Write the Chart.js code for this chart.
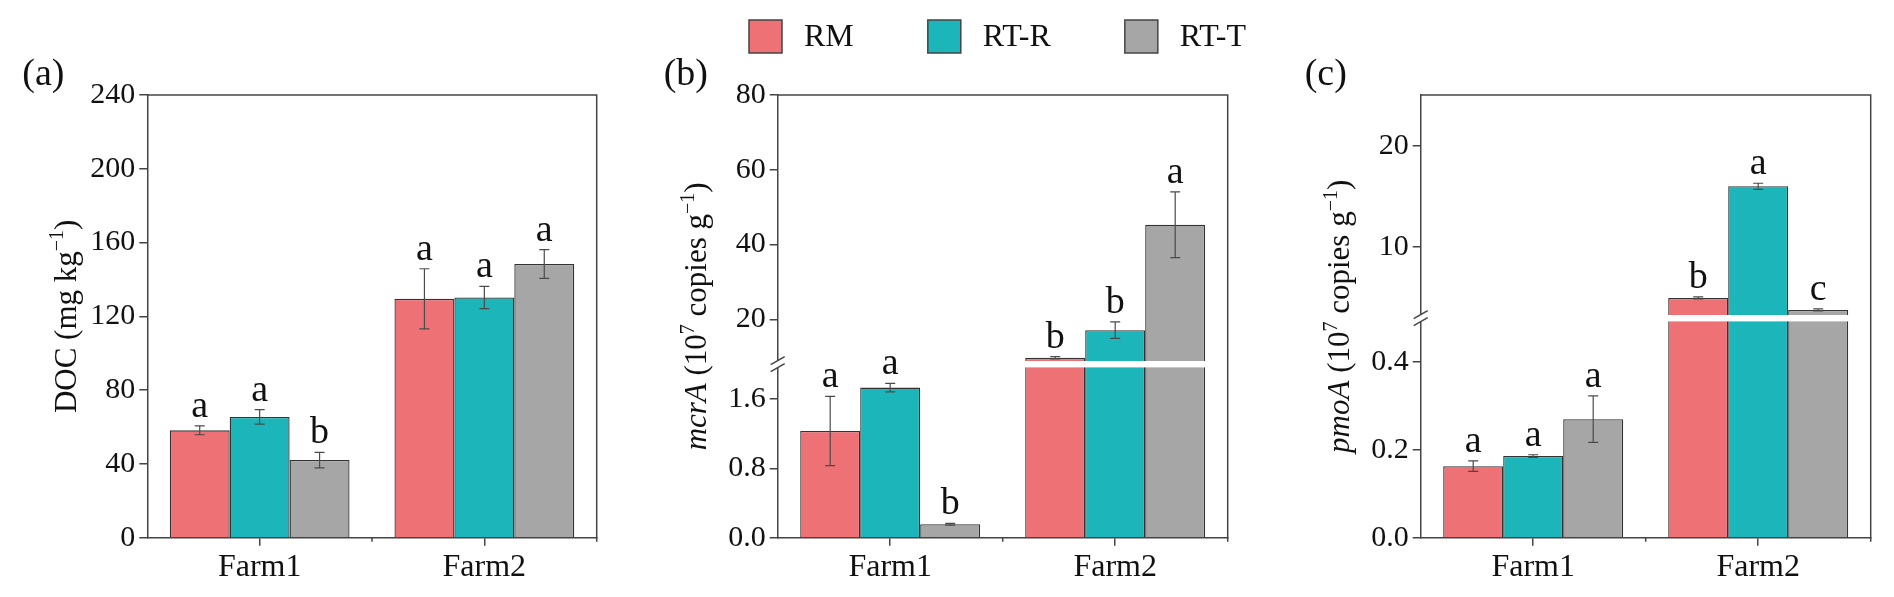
<!DOCTYPE html>
<html>
<head>
<meta charset="utf-8">
<script src="https://cdn.jsdelivr.net/npm/chart.js@4.4.1/dist/chart.umd.min.js"></script>
<style>
  html, body { margin: 0; padding: 0; background: #fff; }
  #wrap { position: relative; width: 1894px; height: 597px; overflow: hidden; }
  canvas { position: absolute; top: 0; }
</style>
</head>
<body>
<div id="wrap">
  <canvas id="chartA" width="620" height="597" style="left:0px;width:620px;height:597px"></canvas>
  <canvas id="chartB" width="650" height="597" style="left:620px;width:650px;height:597px"></canvas>
  <canvas id="chartC" width="624" height="597" style="left:1270px;width:624px;height:597px"></canvas>
</div>
<script>
// data
const categories = ['Farm1', 'Farm2'];
const seriesNames = ['RM', 'RT-R', 'RT-T'];

// (a) DOC, mg kg-1
const docRM = [58.2, 129.5];
const docRTR = [65.5, 130.2];
const docRTT = [42.1, 148.4];
const docErrRM = [2.4, 16.3];
const docErrRTR = [3.9, 6.0];
const docErrRTT = [4.2, 7.8];
const docLetRM = ['a', 'a'];
const docLetRTR = ['a', 'a'];
const docLetRTT = ['b', 'a'];
const docTicks = [0, 40, 80, 120, 160, 200, 240];

// (b) mcrA, 10^7 copies g-1
const mcrRM = [1.23, 9.7];
const mcrRTR = [1.73, 17.1];
const mcrRTT = [0.155, 45.3];
const mcrErrRM = [0.4, 0.3];
const mcrErrRTR = [0.05, 2.2];
const mcrErrRTT = [0.01, 8.8];
const mcrLetRM = ['a', 'b'];
const mcrLetRTR = ['a', 'b'];
const mcrLetRTT = ['b', 'a'];
const mcrLowTicks = [0, 0.8, 1.6];
const mcrHighTicks = [20, 40, 60, 80];

// (c) pmoA, 10^7 copies g-1
const pmoRM = [0.163, 5.0];
const pmoRTR = [0.186, 16.0];
const pmoRTT = [0.27, 3.82];
const pmoErrRM = [0.012, 0.1];
const pmoErrRTR = [0.003, 0.3];
const pmoErrRTT = [0.053, 0.1];
const pmoLetRM = ['a', 'b'];
const pmoLetRTR = ['a', 'a'];
const pmoLetRTT = ['a', 'c'];
const pmoLowTicks = [0, 0.2, 0.4];
const pmoHighTicks = [10, 20];

// styles
const seriesColors = ['#EE7175', '#1CB6BA', '#A6A6A6'];
const edgeColor = '#333333';
const axisColor = '#444444';
const textColor = '#111111';
const serif = '"Liberation Serif", "Times New Roman", serif';

Chart.defaults.font.family = serif;
Chart.defaults.color = textColor;

const PLOT_TOP = 95;
const PLOT_BOTTOM = 537.7;

function barSets(values, axisId) {
  return values.map((vals, i) => ({
    label: seriesNames[i],
    data: vals,
    yAxisID: axisId,
    stack: seriesNames[i],
    backgroundColor: seriesColors[i],
    borderColor: edgeColor,
    borderWidth: 1.3,
    categoryPercentage: 0.8,
    barPercentage: 1.0
  }));
}

function xScale() {
  return {
    type: 'category',
    offset: true,
    grid: { drawOnChartArea: false, drawTicks: true, tickLength: 8, offset: false, color: axisColor, lineWidth: 1.5 },
    border: { color: axisColor, width: 1.5 },
    ticks: { font: { size: 32 }, color: textColor, padding: 3, maxRotation: 0 },
    afterFit: s => { s.height = 597 - PLOT_BOTTOM; }
  };
}

function yScale(o) {
  return {
    type: 'linear',
    position: 'left',
    min: o.min,
    max: o.max,
    stacked: false,
    stack: o.stack,
    stackWeight: o.stackWeight,
    weight: o.weight || 0,
    afterBuildTicks: s => { s.ticks = o.ticks.map(v => ({ value: v })); },
    afterFit: s => { s.width = o.width; },
    grid: { drawOnChartArea: false, tickLength: 8, color: axisColor, lineWidth: 1.5 },
    border: { color: axisColor, width: 1.5 },
    ticks: { font: { size: 30 }, color: textColor, padding: 4, callback: v => o.fmt(v) }
  };
}

function drawRich(ctx, segs, baseX, cy, size) {
  const fontOf = s => (s.italic ? 'italic ' : '') + (s.sup ? Math.round(size * 0.65) : size) + 'px ' + serif;
  let total = 0;
  segs.forEach(s => { ctx.font = fontOf(s); total += ctx.measureText(s.t).width; });
  ctx.save();
  ctx.translate(baseX, cy);
  ctx.rotate(-Math.PI / 2);
  ctx.fillStyle = textColor;
  ctx.textBaseline = 'alphabetic';
  ctx.textAlign = 'left';
  let x = -total / 2;
  segs.forEach(s => {
    ctx.font = fontOf(s);
    ctx.fillText(s.t, x, s.sup ? -size * 0.4 : 0);
    x += ctx.measureText(s.t).width;
  });
  ctx.restore();
}

function decor(spec) {
  return {
    id: 'decor',
    beforeDatasetDraw(chart, args) {
      const s = args.meta.yScale;
      const a = chart.chartArea;
      chart.ctx.save();
      chart.ctx.beginPath();
      chart.ctx.rect(a.left - 2, s.top, a.right - a.left + 4, s.bottom - s.top);
      chart.ctx.clip();
    },
    afterDatasetDraw(chart) {
      chart.ctx.restore();
    },
    afterDatasetsDraw(chart) {
      const ctx = chart.ctx;
      const a = chart.chartArea;
      if (spec.broken) {
        const j = chart.scales.yHigh.bottom;
        ctx.fillStyle = '#fff';
        ctx.fillRect(a.left + 1, j - 3.2, a.right - a.left - 2, 6.4);
      }
      spec.values.forEach((vals, i) => {
        const meta = chart.getDatasetMeta(i);
        vals.forEach((v, k) => {
          const e = spec.errors[i][k];
          const sc = spec.broken ? (v > spec.lowMax ? chart.scales.yHigh : chart.scales.yLow) : chart.scales.y;
          const x = meta.data[k].x;
          const yt = sc.getPixelForValue(v + e);
          const yb = sc.getPixelForValue(v - e);
          ctx.strokeStyle = '#4a4a4a';
          ctx.lineWidth = 1.2;
          ctx.beginPath();
          ctx.moveTo(x, yt); ctx.lineTo(x, yb);
          ctx.moveTo(x - 5, yt); ctx.lineTo(x + 5, yt);
          ctx.moveTo(x - 5, yb); ctx.lineTo(x + 5, yb);
          ctx.stroke();
          ctx.fillStyle = textColor;
          ctx.font = '38px ' + serif;
          ctx.textAlign = 'center';
          ctx.textBaseline = 'alphabetic';
          ctx.fillText(spec.letters[i][k], x, yt - 9);
        });
      });
    },
    afterDraw(chart) {
      const ctx = chart.ctx;
      const a = chart.chartArea;
      ctx.save();
      ctx.strokeStyle = axisColor;
      ctx.lineWidth = 1.5;
      ctx.beginPath();
      ctx.moveTo(a.left, a.top);
      ctx.lineTo(a.right, a.top);
      ctx.lineTo(a.right, a.bottom + 4);
      const mid = chart.scales.x.getPixelForValue(0.5);
      ctx.moveTo(mid, a.bottom);
      ctx.lineTo(mid, a.bottom + 4);
      ctx.stroke();

      if (spec.broken) {
        const j = chart.scales.yHigh.bottom;
        ctx.fillStyle = '#fff';
        ctx.fillRect(a.left - 2, j - 3.5, 4, 7);
        ctx.beginPath();
        [-3.5, 3.5].forEach(dy => {
          ctx.moveTo(a.left - 7, j + dy + 4);
          ctx.lineTo(a.left + 7, j + dy - 4);
        });
        ctx.stroke();
      }

      drawRich(ctx, spec.title, a.left - 71.5, (a.top + a.bottom) / 2, 31);

      ctx.fillStyle = textColor;
      ctx.font = '38px ' + serif;
      ctx.textAlign = 'left';
      ctx.textBaseline = 'alphabetic';
      ctx.fillText(spec.tag, a.left + spec.tagDx, 85);

      if (spec.legendX !== undefined) {
        let x = spec.legendX;
        ctx.font = '32px ' + serif;
        ctx.textBaseline = 'middle';
        chart.data.datasets.slice(0, 3).forEach(ds => {
          ctx.fillStyle = ds.backgroundColor;
          ctx.fillRect(x, 20, 33, 33);
          ctx.strokeStyle = axisColor;
          ctx.lineWidth = 1.5;
          ctx.strokeRect(x, 20, 33, 33);
          x += 33 + 22;
          ctx.fillStyle = textColor;
          ctx.fillText(ds.label, x, 37.5);
          x += ctx.measureText(ds.label).width + 74;
        });
      }
      ctx.restore();
    }
  };
}

function makeChart(id, spec, datasets, yScales, pad) {
  const scales = Object.assign({ x: xScale() }, yScales);
  return new Chart(document.getElementById(id), {
    type: 'bar',
    data: { labels: categories, datasets: datasets },
    options: {
      responsive: false,
      animation: false,
      events: [],
      layout: { padding: { top: PLOT_TOP, left: 0, right: pad, bottom: 0 } },
      plugins: { legend: { display: false }, tooltip: { enabled: false } },
      scales: scales
    },
    plugins: [decor(spec)]
  });
}

// (a)
const docValues = [docRM, docRTR, docRTT];
makeChart('chartA', {
  values: docValues,
  errors: [docErrRM, docErrRTR, docErrRTT],
  letters: [docLetRM, docLetRTR, docLetRTT],
  title: [{ t: 'DOC (mg kg' }, { t: '\u22121', sup: true }, { t: ')' }],
  tag: '(a)', tagDx: -125
}, barSets(docValues, 'y'), {
  y: yScale({ min: 0, max: 240, ticks: docTicks, fmt: v => String(v), width: 147.3 })
}, 620 - 596.7);

// (b)
const mcrValues = [mcrRM, mcrRTR, mcrRTT];
makeChart('chartB', {
  broken: true, lowMax: 2,
  values: mcrValues,
  errors: [mcrErrRM, mcrErrRTR, mcrErrRTT],
  letters: [mcrLetRM, mcrLetRTR, mcrLetRTT],
  title: [{ t: 'mcrA', italic: true }, { t: ' (10' }, { t: '7', sup: true }, { t: ' copies g' }, { t: '\u22121', sup: true }, { t: ')' }],
  tag: '(b)', tagDx: -114,
  legendX: 749 - 620
}, barSets(mcrValues, 'yLow').concat(barSets(mcrValues, 'yHigh')), {
  yHigh: yScale({ min: 8, max: 80, ticks: mcrHighTicks, fmt: v => String(v), width: 157.7, stack: 'v', stackWeight: 269.2, weight: 2 }),
  yLow: yScale({ min: 0, max: 2, ticks: mcrLowTicks, fmt: v => v.toFixed(1), width: 157.7, stack: 'v', stackWeight: 173.5, weight: 1 })
}, 650 - 607.7);

// (c)
const pmoValues = [pmoRM, pmoRTR, pmoRTT];
makeChart('chartC', {
  broken: true, lowMax: 0.5,
  values: pmoValues,
  errors: [pmoErrRM, pmoErrRTR, pmoErrRTT],
  letters: [pmoLetRM, pmoLetRTR, pmoLetRTT],
  title: [{ t: 'pmoA', italic: true }, { t: ' (10' }, { t: '7', sup: true }, { t: ' copies g' }, { t: '\u22121', sup: true }, { t: ')' }],
  tag: '(c)', tagDx: -116
}, barSets(pmoValues, 'yLow').concat(barSets(pmoValues, 'yHigh')), {
  yHigh: yScale({ min: 3, max: 25, ticks: pmoHighTicks, fmt: v => String(v), width: 150.7, stack: 'v', stackWeight: 223.2, weight: 2 }),
  yLow: yScale({ min: 0, max: 0.5, ticks: pmoLowTicks, fmt: v => v.toFixed(1), width: 150.7, stack: 'v', stackWeight: 219.5, weight: 1 })
}, 624 - (1870.7 - 1270));
</script>
</body>
</html>
